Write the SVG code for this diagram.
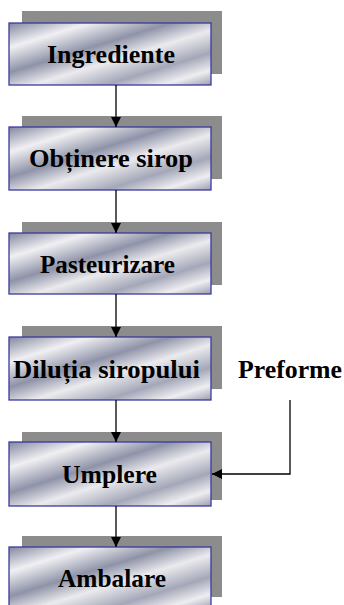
<svg xmlns="http://www.w3.org/2000/svg" width="344" height="605" viewBox="0 0 344 605">
<defs>
<linearGradient id="metal" x1="0" y1="0" x2="1" y2="1">
<stop offset="0" stop-color="#83879f"/>
<stop offset="0.2" stop-color="#f0f0f3"/>
<stop offset="0.4" stop-color="#8f93a8"/>
<stop offset="0.56" stop-color="#ebebee"/>
<stop offset="0.74" stop-color="#a4a7b8"/>
<stop offset="0.88" stop-color="#eeeef1"/>
<stop offset="1" stop-color="#9a9db0"/>
</linearGradient>
<marker id="arr" markerWidth="10" markerHeight="10" refX="10" refY="5" orient="auto" markerUnits="userSpaceOnUse">
<path d="M0,0 L10,5 L0,10 Z" fill="#000"/>
</marker>
<style>
.sh{fill:#8c8c8c}
.bx{fill:url(#metal);stroke:#3a3a9e;stroke-width:1.3}
.t{font-family:'Liberation Serif','DejaVu Serif','Times New Roman',serif;font-weight:bold;font-size:25px;fill:#000}
.c{fill:none;stroke:#000;stroke-width:1.3}
</style>
</defs>
<rect width="344" height="605" fill="#ffffff"/>
<g id="n1">
<rect class="sh" x="22" y="11" width="200" height="63"/>
<rect class="bx" x="9" y="23" width="202" height="62"/>
<text class="t" x="47" y="63" textLength="128" lengthAdjust="spacingAndGlyphs">Ingrediente</text>
</g>
<g id="n2">
<rect class="sh" x="22" y="116" width="200" height="63"/>
<rect class="bx" x="9" y="127" width="202" height="63"/>
<text class="t" x="29" y="167" textLength="164" lengthAdjust="spacingAndGlyphs">Obținere sirop</text>
</g>
<g id="n3">
<rect class="sh" x="22" y="222" width="200" height="63"/>
<rect class="bx" x="9" y="233" width="202" height="61"/>
<text class="t" x="40" y="273" textLength="135" lengthAdjust="spacingAndGlyphs">Pasteurizare</text>
</g>
<g id="n4">
<rect class="sh" x="22" y="326" width="200" height="63"/>
<rect class="bx" x="9" y="337" width="202" height="63"/>
<text class="t" x="13" y="378" textLength="187" lengthAdjust="spacingAndGlyphs">Diluția siropului</text>
</g>
<g id="n5">
<rect class="sh" x="22" y="432" width="200" height="68"/>
<rect class="bx" x="9" y="442" width="202" height="64"/>
<text class="t" x="62" y="483" textLength="95" lengthAdjust="spacingAndGlyphs">Umplere</text>
</g>
<g id="n6">
<rect class="sh" x="22" y="536" width="200" height="61"/>
<rect class="bx" x="9" y="547" width="202" height="62"/>
<text class="t" x="58" y="587" textLength="108" lengthAdjust="spacingAndGlyphs">Ambalare</text>
</g>
<g id="n7">
<text class="t" x="238" y="378" textLength="104" lengthAdjust="spacingAndGlyphs">Preforme</text>
</g>
<g id="connectors">
<line class="c" x1="116" y1="85" x2="116" y2="127" marker-end="url(#arr)"/>
<line class="c" x1="116" y1="190" x2="116" y2="233" marker-end="url(#arr)"/>
<line class="c" x1="116" y1="294" x2="116" y2="337" marker-end="url(#arr)"/>
<line class="c" x1="116" y1="400" x2="116" y2="442" marker-end="url(#arr)"/>
<line class="c" x1="116" y1="506" x2="116" y2="547" marker-end="url(#arr)"/>
<polyline class="c" points="290,400 290,474 212,474" marker-end="url(#arr)"/>
</g>
</svg>
